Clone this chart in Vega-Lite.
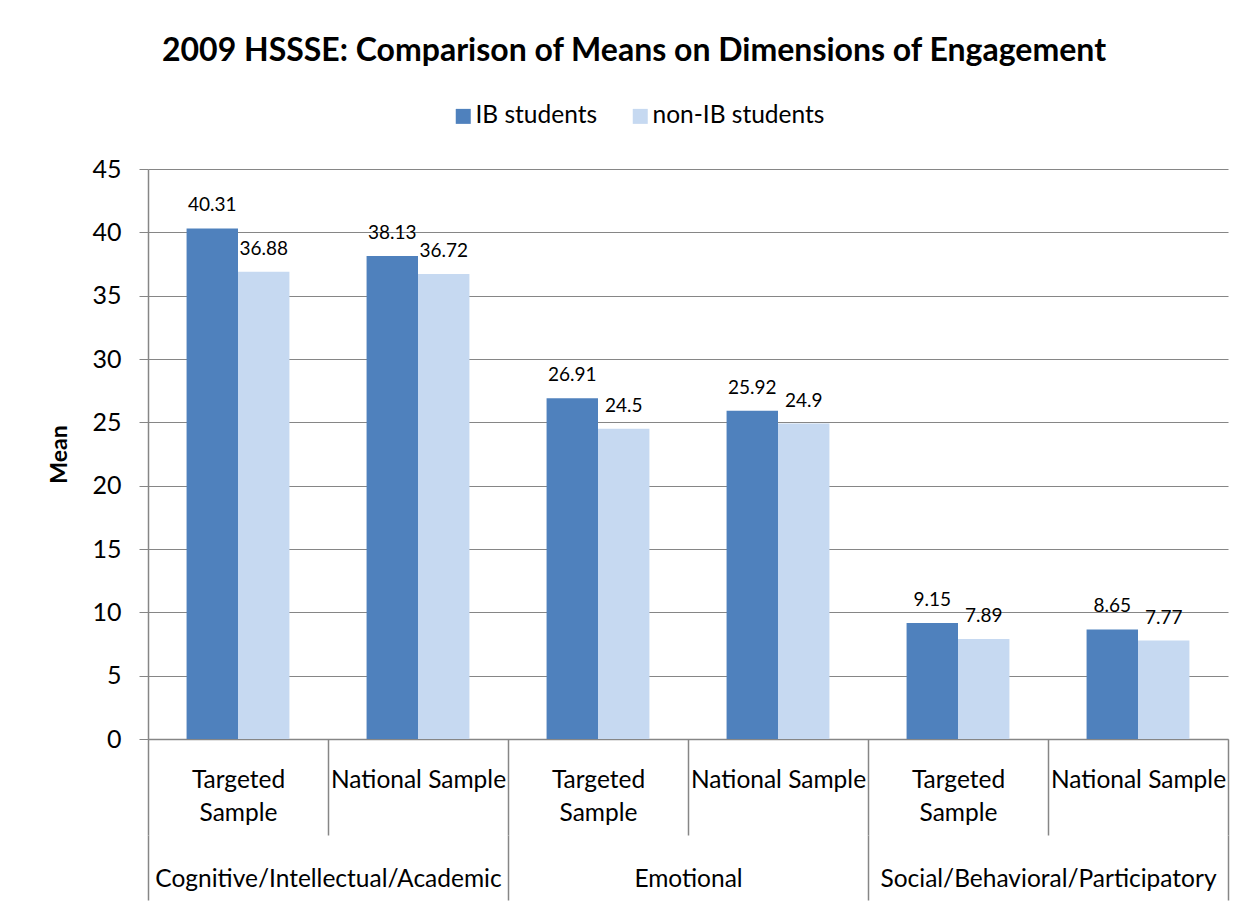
{
  "$schema": "https://vega.github.io/schema/vega-lite/v6.json",
  "autosize": {"type": "none"},
  "padding": {"left": 148, "top": 169, "right": 24, "bottom": 168},
  "width": 1080,
  "height": 570,
  "background": "white",
  "title": {
    "text": "2009 HSSSE: Comparison of Means on Dimensions of Engagement",
    "anchor": "middle",
    "frame": "group",
    "dx": -54,
    "offset": 36,
    "font": "Lato",
    "fontSize": 32,
    "fontWeight": "bold",
    "color": "black"
  },
  "config": {
    "font": "Lato",
    "view": {"stroke": null},
    "axis": {"labelColor": "black", "titleColor": "black", "labelFont": "Lato", "titleFont": "Lato"}
  },
  "data": {
    "values": [
      {"dimension": "Cognitive/Intellectual/Academic", "cell": "Cognitive/Intellectual/Academic | Targeted Sample", "series": "IB students", "value": 40.31},
      {"dimension": "Cognitive/Intellectual/Academic", "cell": "Cognitive/Intellectual/Academic | Targeted Sample", "series": "non-IB students", "value": 36.88},
      {"dimension": "Cognitive/Intellectual/Academic", "cell": "Cognitive/Intellectual/Academic | National Sample", "series": "IB students", "value": 38.13},
      {"dimension": "Cognitive/Intellectual/Academic", "cell": "Cognitive/Intellectual/Academic | National Sample", "series": "non-IB students", "value": 36.72},
      {"dimension": "Emotional", "cell": "Emotional | Targeted Sample", "series": "IB students", "value": 26.91},
      {"dimension": "Emotional", "cell": "Emotional | Targeted Sample", "series": "non-IB students", "value": 24.5},
      {"dimension": "Emotional", "cell": "Emotional | National Sample", "series": "IB students", "value": 25.92},
      {"dimension": "Emotional", "cell": "Emotional | National Sample", "series": "non-IB students", "value": 24.9},
      {"dimension": "Social/Behavioral/Participatory", "cell": "Social/Behavioral/Participatory | Targeted Sample", "series": "IB students", "value": 9.15},
      {"dimension": "Social/Behavioral/Participatory", "cell": "Social/Behavioral/Participatory | Targeted Sample", "series": "non-IB students", "value": 7.89},
      {"dimension": "Social/Behavioral/Participatory", "cell": "Social/Behavioral/Participatory | National Sample", "series": "IB students", "value": 8.65},
      {"dimension": "Social/Behavioral/Participatory", "cell": "Social/Behavioral/Participatory | National Sample", "series": "non-IB students", "value": 7.77}
    ]
  },
  "layer": [
    {
      "encoding": {
        "x": {
          "field": "cell",
          "type": "nominal",
          "sort": null,
          "scale": {"paddingInner": 0, "paddingOuter": 0},
          "axis": {
            "title": null,
            "orient": "bottom",
            "labelAngle": 0,
            "labelExpr": "indexof(datum.label, 'Targeted') >= 0 ? ['Targeted', 'Sample'] : (indexof(datum.label, 'National') >= 0 ? 'National Sample' : '')",
            "labelFontSize": 24.5,
            "labelLineHeight": 33,
            "labelBaseline": "alphabetic",
            "labelPadding": -48,
            "labelOverlap": false,
            "labelBound": false,
            "labelFlush": false,
            "labelLimit": 1000,
            "tickBand": "extent",
            "ticks": true,
            "tickSize": 96,
            "tickColor": "#868686",
            "tickWidth": 1.5,
            "domain": true,
            "domainColor": "#868686",
            "domainWidth": 1.5,
            "grid": false
          }
        },
        "xOffset": {
          "field": "series",
          "type": "nominal",
          "sort": ["IB students", "non-IB students"],
          "scale": {"paddingInner": 0, "paddingOuter": 0.75}
        },
        "y": {
          "field": "value",
          "type": "quantitative",
          "scale": {"domain": [0, 45], "nice": false},
          "axis": {
            "title": "Mean",
            "titleFontSize": 23,
            "titleFontWeight": "bold",
            "titlePadding": 20,
            "values": [0, 5, 10, 15, 20, 25, 30, 35, 40, 45],
            "labelFontSize": 25,
            "labelPadding": 18,
            "tickSize": 9,
            "tickColor": "#868686",
            "domainColor": "#868686",
            "domainWidth": 1.5,
            "grid": true,
            "gridColor": "#868686",
            "gridWidth": 1.2
          }
        }
      },
      "layer": [
        {
          "mark": {"type": "bar"},
          "encoding": {
            "color": {
              "field": "series",
              "type": "nominal",
              "sort": ["IB students", "non-IB students"],
              "scale": {"domain": ["IB students", "non-IB students"], "range": ["#4F81BD", "#C6D9F1"]},
              "legend": {
                "title": null,
                "orient": "none",
                "direction": "horizontal",
                "legendX": 303,
                "legendY": -65,
                "labelFontSize": 24.5,
                "labelLimit": 400,
                "labelColor": "black",
                "symbolType": "square",
                "symbolSize": 225,
                "symbolStrokeWidth": 0,
                "symbolOpacity": 1,
                "labelOffset": 0,
                "columnPadding": 30
              }
            }
          }
        },
        {
          "mark": {"type": "text", "baseline": "alphabetic", "dy": -17, "fontSize": 19, "color": "black"},
          "encoding": {
            "text": {"field": "value", "type": "quantitative"}
          }
        }
      ]
    },
    {
      "mark": {"type": "point", "opacity": 0},
      "encoding": {
        "x": {
          "field": "dimension",
          "type": "nominal",
          "sort": null,
          "scale": {"paddingInner": 0, "paddingOuter": 0},
          "axis": {
            "title": null,
            "orient": "bottom",
            "offset": 96,
            "labelAngle": 0,
            "labelFontSize": 24.5,
            "labelBaseline": "alphabetic",
            "labelPadding": -14,
            "labelOverlap": false,
            "labelBound": false,
            "labelFlush": false,
            "labelLimit": 1000,
            "tickBand": "extent",
            "ticks": true,
            "tickSize": 65,
            "tickColor": "#868686",
            "tickWidth": 1.5,
            "domain": false,
            "grid": false
          }
        }
      }
    }
  ],
  "resolve": {"scale": {"x": "independent"}, "axis": {"x": "independent"}}
}
